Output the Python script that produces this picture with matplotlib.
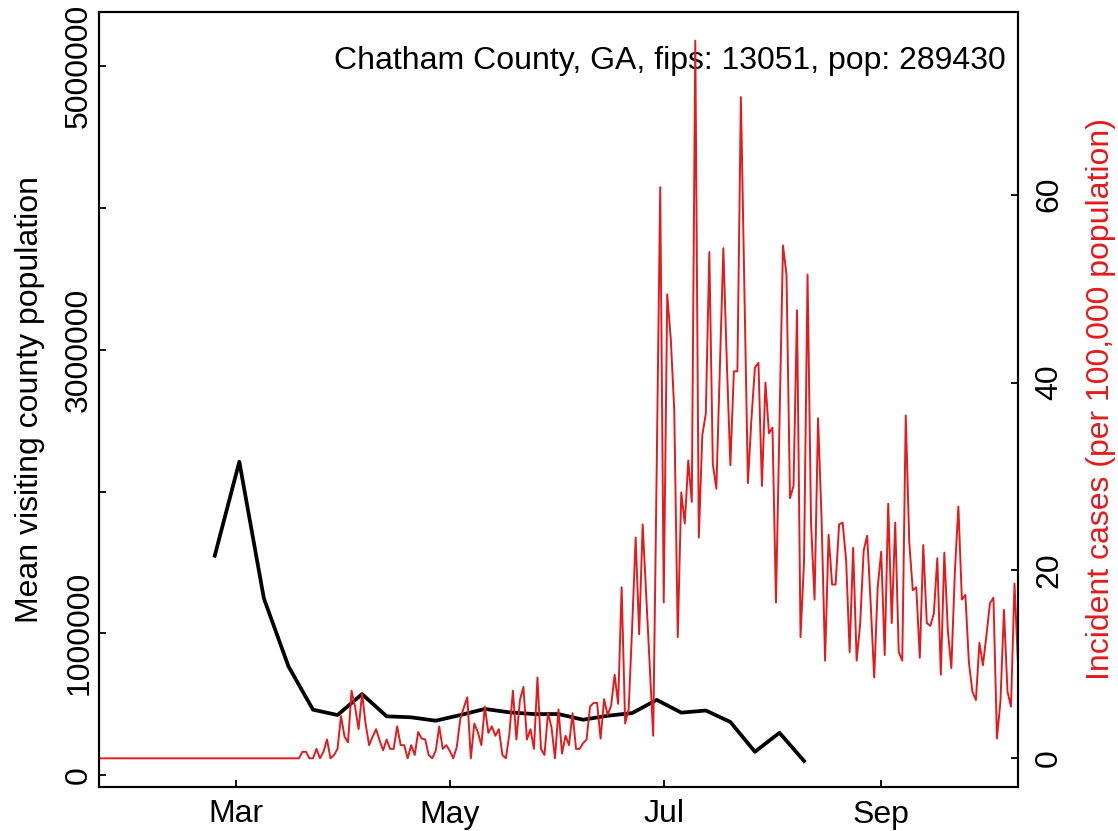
import matplotlib
matplotlib.use("Agg")
import matplotlib.pyplot as plt
import matplotlib.dates as mdates
import pandas as pd

plt.rcParams["font.family"] = ["Liberation Sans", "DejaVu Sans"]

RED = "#e41a1c"
FS = 23

# ── data ──────────────────────────────────────────────────────────────────
case_start = "2020-01-22"          # daily incident cases per 100k
cases = [
    0, 0, 0, 0, 0, 0, 0, 0, 0, 0,
    0, 0, 0, 0, 0, 0, 0, 0, 0, 0,
    0, 0, 0, 0, 0, 0, 0, 0, 0, 0,
    0, 0, 0, 0, 0, 0, 0, 0, 0, 0,
    0, 0, 0, 0, 0, 0, 0, 0, 0, 0,
    0, 0, 0, 0, 0, 0, 0, 0,
    0.69, 0.69, 0, 0, 1.0, 0, 0.69, 2.0, 0, 0.35,
    1.0, 4.5, 2.3, 1.7, 7.2, 5.5, 3.1, 6.9, 3.7, 1.4,
    2.3, 3.1, 1.9, 0.85, 2.0, 1.0, 1.0, 3.4, 1.4, 1.4,
    0, 1.4, 0.35, 2.8, 2.1, 2.0, 0.35, 0, 0.8, 3.4,
    1.0, 1.4, 0.8, 0, 1.2, 4.2, 5.4, 6.5, 0, 3.7,
    2.8, 1.4, 5.5, 2.7, 3.4, 2.4, 3.1, 0.35, 0, 2.6,
    7.2, 2.0, 6.2, 7.6, 2.0, 3.1, 1.0, 8.6, 1.0, 0.35,
    4.8, 3.3, 0, 5.2, 0.5, 2.4, 1.4, 4.8, 1.0, 1.0,
    1.6, 2.0, 5.5, 5.9, 5.9, 2.1, 6.3, 4.6, 5.6, 8.9,
    5.8, 18.2, 3.7, 5.2, 14.0, 23.5, 13.2, 24.9, 17.4, 9.9,
    2.4, 31.0, 60.8, 16.6, 49.4, 44.7, 37.1, 12.9, 28.3, 25.0,
    31.7, 27.3, 76.4, 23.5, 34.4, 36.7, 53.9, 31.3, 28.7, 41.5,
    54.3, 42.0, 31.2, 41.2, 41.2, 70.4, 50.0, 29.3, 36.1, 41.6,
    42.1, 29.0, 40.0, 34.6, 35.2, 16.6, 35.6, 54.6, 51.5, 27.7,
    29.0, 47.7, 12.9, 21.0, 51.5, 25.0, 16.9, 36.2, 25.5, 10.4,
    23.8, 18.5, 18.5, 24.9, 25.1, 21.1, 11.3, 22.4, 10.4, 14.3,
    22.1, 23.7, 16.5, 8.6, 18.2, 22.0, 11.0, 27.1, 14.4, 25.1,
    11.3, 10.4, 36.5, 23.0, 17.9, 18.2, 10.7, 22.7, 14.4, 14.1,
    15.4, 21.3, 8.9, 21.9, 13.6, 9.6, 19.8, 26.8, 16.9, 17.4,
    10.2, 7.1, 6.2, 12.3, 9.9, 13.1, 16.5, 17.1, 2.1, 6.1,
    15.8, 7.1, 5.5, 18.6, 10.0,
]

visit_start = "2020-02-24"         # weekly mean visiting population
visitors = [
    1547000, 2210000, 1247000, 767000, 461000, 423000, 571000, 414000,
    407000, 383000, 423000, 466000, 442000, 430000, 430000, 390000,
    418000, 437000, 530000, 440000, 455000, 374000, 164000, 298000,
    99000,
]

left_ticks = [0, 1000000, 2000000, 3000000, 4000000, 5000000]
left_labels = ["0", "1000000", "", "3000000", "", "5000000"]
right_ticks = [0, 20, 40, 60]
title = "Chatham County, GA, fips: 13051, pop: 289430"

case_dates = pd.date_range(case_start, periods=len(cases), freq="D")
visit_dates = pd.date_range(visit_start, periods=len(visitors), freq="7D")

# ── figure ───────────────────────────────────────────────────────────────
W, H = 1118, 831
fig = plt.figure(figsize=(W / 100, H / 100), dpi=100)
ax = fig.add_axes([99 / W, 1 - 787 / H, 919 / W, 775 / H])
mid_y = 1 - 399.5 / H

ax.plot(visit_dates, visitors, color="black", lw=2.7, zorder=3)
ax.set_ylim(-84650, 5383000)
ax.set_yticks(left_ticks)
ax.set_yticklabels(left_labels, rotation=90, va="center")

ax.set_xlim(case_dates[0], case_dates[-1])
ax.xaxis.set_major_locator(mdates.MonthLocator(bymonth=[3, 5, 7, 9]))
ax.xaxis.set_major_formatter(mdates.DateFormatter("%b"))

ax.tick_params(axis="both", direction="in", length=5, width=1.3,
               labelsize=FS)
ax.tick_params(axis="y", pad=3.5)
ax.tick_params(axis="x", pad=9)
for s in ax.spines.values():
    s.set_linewidth(1.5)

ax2 = ax.twinx()
ax2.plot(case_dates, cases, color=RED, lw=1.4)
peak = max(cases)
ax2.set_ylim(-0.04 * peak, 1.04 * peak)
ax2.set_yticks(right_ticks)
ax2.set_yticklabels([str(t) for t in right_ticks], rotation=90, va="center")
ax2.tick_params(axis="y", direction="in", length=5, width=1.3,
                labelsize=FS, pad=11.5)
for s in ax2.spines.values():
    s.set_linewidth(1.5)

fig.text(30 / W, mid_y, "Mean visiting county population", rotation=90,
         ha="center", va="center", fontsize=FS)
fig.text(1101 / W, mid_y, "Incident cases (per 100,000 population)",
         rotation=90, ha="center", va="center", fontsize=FS, color=RED)

ax.text((1006 - 99) / 919, (787 - 68.5) / 775, title, transform=ax.transAxes,
        ha="right", va="baseline", fontsize=FS)

fig.savefig("out.png", dpi=100)
